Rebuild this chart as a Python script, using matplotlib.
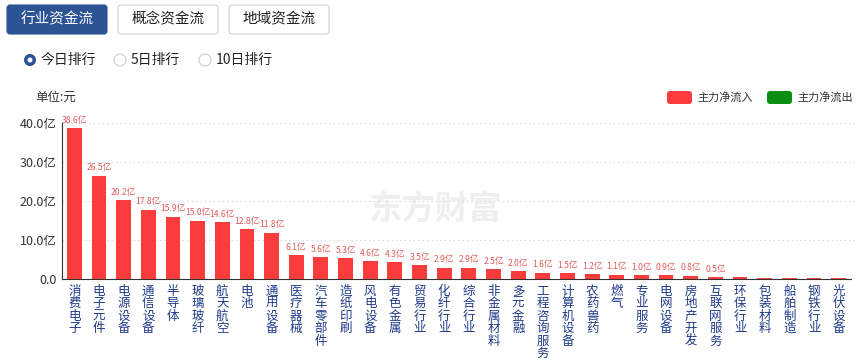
import matplotlib
matplotlib.use("Agg")
import matplotlib.pyplot as plt
from matplotlib.patches import FancyBboxPatch, Circle

plt.rcParams['font.family'] = ['Noto Sans CJK SC', 'DejaVu Sans']

categories = ["消费电子", "电子元件", "电源设备", "通信设备", "半导体", "玻璃玻纤", "航天航空", "电池",
              "通用设备", "医疗器械", "汽车零部件", "造纸印刷", "风电设备", "有色金属", "贸易行业",
              "化纤行业", "综合行业", "非金属材料", "多元金融", "工程咨询服务", "计算机设备", "农药兽药",
              "燃气", "专业服务", "电网设备", "房地产开发", "互联网服务", "环保行业", "包装材料",
              "船舶制造", "钢铁行业", "光伏设备"]
values = [38.6, 26.5, 20.2, 17.8, 15.9, 15.0, 14.6, 12.8, 11.8, 6.1, 5.6, 5.3, 4.6, 4.3, 3.5,
          2.9, 2.9, 2.5, 2.0, 1.6, 1.5, 1.2, 1.1, 1.0, 0.9, 0.8, 0.5, 0.4, 0.35, 0.3, 0.3, 0.2]
show_label = [True] * 27 + [False] * 5
y_ticks = [0, 10, 20, 30, 40]
y_tick_labels = ["0.0", "10.0亿", "20.0亿", "30.0亿", "40.0亿"]
tabs = ["行业资金流", "概念资金流", "地域资金流"]
radios = ["今日排行", "5日排行", "10日排行"]
legend_labels = ["主力净流入", "主力净流出"]

W, H = 864, 363
fig = plt.figure(figsize=(W / 100, H / 100), dpi=100)

RED = '#fa3c3c'
GREEN = '#0a8f12'
BLUE = '#2c5394'

# Overlay axes in pixel coordinates (origin top-left)
ov = fig.add_axes([0, 0, 1, 1])
ov.set_xlim(0, W)
ov.set_ylim(H, 0)
ov.axis('off')
ov.set_zorder(0)

# Watermark
ov.text(435, 210, "东方财富", ha='center', va='center', fontsize=24,
        color='#efefef', fontweight='bold', zorder=0)

# Tabs
tab_x = [7, 118, 229]
for i, (t, x0) in enumerate(zip(tabs, tab_x)):
    sel = i == 0
    box = FancyBboxPatch((x0, 5), 100, 29,
                         boxstyle="round,pad=0,rounding_size=3",
                         facecolor=BLUE if sel else 'white',
                         edgecolor=BLUE if sel else '#cfcfcf', linewidth=0.8)
    ov.add_patch(box)
    ov.text(x0 + 50, 19.5, t, ha='center', va='center', fontsize=10.5,
            color='white' if sel else '#222222')

# Radios
radio_x = [30, 120, 205]
for i, (r, cx) in enumerate(zip(radios, radio_x)):
    sel = i == 0
    if sel:
        ov.add_patch(Circle((cx, 60), 6, facecolor=BLUE, edgecolor='none'))
        ov.add_patch(Circle((cx, 60), 2.5, facecolor='white', edgecolor='none'))
    else:
        ov.add_patch(Circle((cx, 60), 6, facecolor='white', edgecolor='#cccccc', linewidth=0.8))
    ov.text(cx + 11, 60, r, ha='left', va='center', fontsize=10, color='#222222')

ov.text(35, 97, "单位:元", ha='left', va='center', fontsize=9, color='#333333')

# Legend
for lab, col, x0 in zip(legend_labels, [RED, GREEN], [667, 767]):
    box = FancyBboxPatch((x0, 91), 25, 13,
                         boxstyle="round,pad=0,rounding_size=3",
                         facecolor=col, edgecolor='none')
    ov.add_patch(box)
    ov.text(x0 + 30, 97.5, lab, ha='left', va='center', fontsize=8, color='#333333')

# Main axes
left, right = 62, 851
top, bottom = 123, 279
ax = fig.add_axes([left / W, 1 - bottom / H, (right - left) / W, (bottom - top) / H])
ax.set_zorder(1)
ax.patch.set_alpha(0)
n = len(categories)
xs = list(range(n))
ax.bar(xs, values, width=0.6, color=RED, zorder=3)
ax.set_xlim(-0.5, n - 0.5)
ax.set_ylim(0, 40)
ax.set_yticks(y_ticks)
ax.set_yticklabels(y_tick_labels, fontsize=9, color='#333333')
ax.set_xticks(xs)
ax.set_xticklabels(['\n'.join(c) for c in categories], fontsize=9, color='#1f3a8a',
                   va='top', linespacing=0.95)
ax.tick_params(axis='both', length=0, pad=4)
for v in y_ticks[1:]:
    ax.axhline(v, color='#dddddd', linestyle=(0, (1.5, 2.5)), linewidth=0.8, zorder=1,
               xmax=1.005, clip_on=False)
for s in ['top', 'right']:
    ax.spines[s].set_visible(False)
ax.spines['left'].set_color('#333333')
ax.spines['bottom'].set_color('#333333')
ax.spines['left'].set_linewidth(0.8)
ax.spines['bottom'].set_linewidth(0.8)

for x, v, s in zip(xs, values, show_label):
    if s:
        ax.text(x, v + 0.9, f"{v:.1f}亿", ha='center', va='bottom', fontsize=6.2,
                color='#e55a5a', clip_on=False)

fig.savefig("out.png", dpi=100)
